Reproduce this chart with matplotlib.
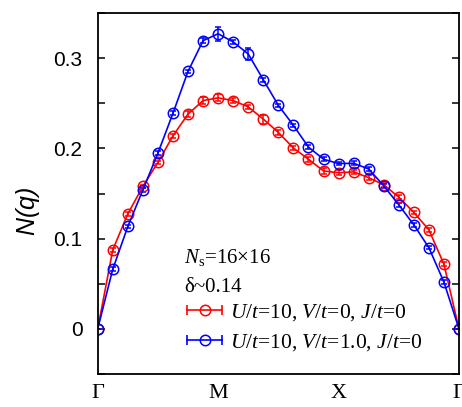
import numpy as np
import matplotlib
matplotlib.use("Agg")
import matplotlib.pyplot as plt
from matplotlib.lines import Line2D
from matplotlib.legend_handler import HandlerLine2D, HandlerTuple

plt.rcParams['mathtext.fontset'] = 'custom'
plt.rcParams['mathtext.rm'] = 'Liberation Serif'
plt.rcParams['mathtext.it'] = 'Liberation Serif:italic'
plt.rcParams['mathtext.sf'] = 'Liberation Sans:italic'

# path Gamma -> M -> X -> Gamma, 8 steps per segment on a 16x16 lattice
q_index = np.arange(25)
path_ticks = [0, 8, 16, 24]
path_labels = ['Γ', 'M', 'X', 'Γ']

# U/t=10, V/t=0, J/t=0
n_v0 = [0.0, 0.0876, 0.1275, 0.158, 0.1845, 0.214, 0.238, 0.253, 0.256,
        0.253, 0.246, 0.2325, 0.2177, 0.2004, 0.188, 0.175, 0.173, 0.174,
        0.1675, 0.1597, 0.146, 0.129, 0.1098, 0.0717, 0.0]
err_v0 = [0.0, 0.002, 0.002, 0.002, 0.002, 0.002, 0.003, 0.004, 0.004,
          0.003, 0.002, 0.005, 0.003, 0.002, 0.003, 0.003, 0.003, 0.002,
          0.003, 0.002, 0.002, 0.002, 0.002, 0.002, 0.0]

# U/t=10, V/t=1.0, J/t=0
n_v1 = [0.0, 0.0662, 0.1135, 0.154, 0.1948, 0.239, 0.2854, 0.3194, 0.327,
        0.318, 0.3046, 0.276, 0.2477, 0.2255, 0.2015, 0.188, 0.1832, 0.1835,
        0.1772, 0.1586, 0.1375, 0.1153, 0.090, 0.0518, 0.0]
err_v1 = [0.0, 0.002, 0.002, 0.002, 0.002, 0.002, 0.002, 0.003, 0.008,
          0.002, 0.0065, 0.002, 0.002, 0.002, 0.002, 0.002, 0.002, 0.002,
          0.002, 0.002, 0.002, 0.002, 0.002, 0.002, 0.0]

labels = [r'$\mathit{U/t}$=10, $\mathit{V/t}$=0, $\mathit{J/t}$=0',
          r'$\mathit{U/t}$=10, $\mathit{V/t}$=1.0, $\mathit{J/t}$=0']
colors = ['#ff0000', '#0000ff']

fig = plt.figure(figsize=(4.62, 4.07), dpi=100)
ax = fig.add_axes([0.2115, 0.081, 0.782, 0.887])

for y, e, c in zip([n_v0, n_v1], [err_v0, err_v1], colors):
    ax.errorbar(q_index, y, yerr=e, color=c, lw=1.2, marker='o', ms=7.5,
                mfc='none', mec=c, mew=1.1, capsize=2.5, elinewidth=1.1,
                capthick=1.1)

ax.set_xlim(0, 24)
ax.set_ylim(-0.05, 0.35)
ax.set_xticks(path_ticks)
ax.set_xticklabels(path_labels, fontfamily='Liberation Serif', fontsize=16)
ax.tick_params(axis='x', length=0, pad=7)
ax.set_yticks([0, 0.1, 0.2, 0.3])
ax.set_yticklabels(['0', '0.1', '0.2', '0.3'], fontfamily='Liberation Sans', fontsize=15)
ax.set_yticks(np.arange(-0.05, 0.351, 0.05), minor=True)
ax.tick_params(axis='y', which='both', direction='in', length=5, width=1.1,
               right=True, pad=11)
for s in ax.spines.values():
    s.set_linewidth(1.3)

ax.set_ylabel(r'$\mathsf{N(q)}$', fontsize=18)
ax.yaxis.set_label_coords(-0.155, 0.45)

ax.text(0.24, 0.324, r'$\mathit{N}_{\rm s}$=16×16', transform=ax.transAxes,
        fontfamily='Liberation Serif', fontsize=15, va='center')
ax.text(0.24, 0.241, 'δ~0.14', transform=ax.transAxes,
        fontfamily='Liberation Serif', fontsize=15, va='center')

handles = []
hmap = {}
for c in colors:
    caps = Line2D([0], [0], color=c, lw=1.2, marker='|', ms=7, mew=1.2)
    circ = Line2D([0], [0], color=c, lw=0, marker='o', ms=7.5, mfc='none',
                  mec=c, mew=1.1)
    hmap[caps] = HandlerLine2D(numpoints=2, marker_pad=0)
    hmap[circ] = HandlerLine2D(numpoints=1)
    handles.append((caps, circ))
hmap[tuple] = HandlerTuple(ndivide=1, pad=0)

leg = ax.legend(handles, labels, handler_map=hmap, loc='lower left',
                bbox_to_anchor=(0.205, 0.017), frameon=False,
                prop={'family': 'Liberation Serif', 'size': 15.5},
                handlelength=1.65, handletextpad=0.35, labelspacing=0.4,
                borderpad=0.2)

fig.savefig('out.png', dpi=100)
